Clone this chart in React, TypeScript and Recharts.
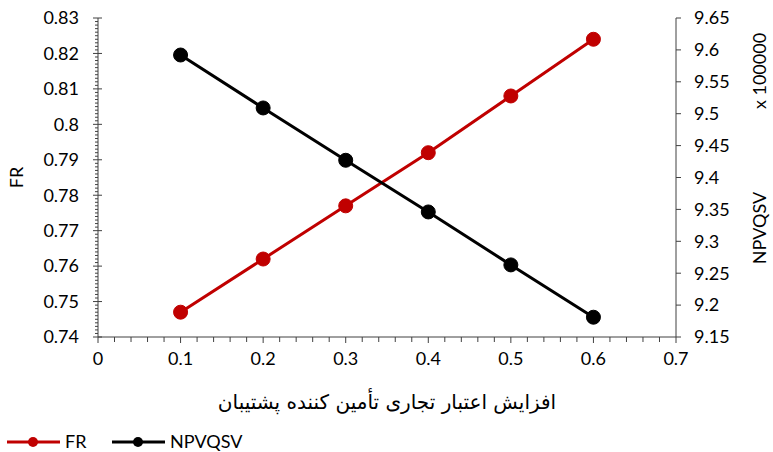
import React from 'react';
import { LineChart, Line, XAxis, YAxis, Legend, Label } from 'recharts';

const xValues = [0.1, 0.2, 0.3, 0.4, 0.5, 0.6];
const frValues = [0.747, 0.762, 0.777, 0.792, 0.808, 0.824];
const npvValues = [959200, 950900, 942700, 934600, 926300, 918100];

const xTickLabels = ['0', '0.1', '0.2', '0.3', '0.4', '0.5', '0.6', '0.7'];
const frTickLabels = ['0.74', '0.75', '0.76', '0.77', '0.78', '0.79', '0.8', '0.81', '0.82', '0.83'];
const npvTickLabels = ['9.15', '9.2', '9.25', '9.3', '9.35', '9.4', '9.45', '9.5', '9.55', '9.6', '9.65'];

const xTitle = 'افزایش اعتبار تجاری تأمین کننده پشتیبان';
const leftTitle = 'FR';
const rightTitle = 'NPVQSV';
const rightUnit = 'x 100000';

const data = xValues.map((x, i) => ({ x, FR: frValues[i], NPVQSV: npvValues[i] }));

// minor tick positions (axis furniture)
const xTicks = Array.from({ length: 36 }, (_, i) => Math.round(i * 2) / 100);
const frTicks = Array.from({ length: 91 }, (_, i) => Math.round(740 + i) / 1000);
const npvTicks = npvTickLabels.map((t) => Math.round(parseFloat(t) * 100000));

const AXIS = '#404040';
const FONT = 'Lato, "Open Sans", sans-serif';
const RED = '#C00000';
const BLACK = '#000000';

const XTick = (props: any) => {
  const { x, y, payload } = props;
  const k = Math.round(payload.value * 100);
  const major = k % 10 === 0;
  return (
    <g>
      <line x1={x} x2={x} y1={y} y2={y + (major ? 6 : 5)} stroke={AXIS} strokeWidth={1} />
      {major && (
        <text x={x} y={y + 28} textAnchor="middle" fontSize={18} fontFamily={FONT} fill="#000">
          {xTickLabels[k / 10]}
        </text>
      )}
    </g>
  );
};

const LeftTick = (props: any) => {
  const { x, y, payload } = props;
  const k = Math.round(payload.value * 1000) - 740;
  const major = k % 10 === 0;
  return (
    <g>
      <line x1={x - (major ? 5 : 3)} x2={x + (major ? 4 : 0)} y1={y} y2={y} stroke={AXIS} strokeWidth={1} />
      {major && (
        <text x={x - 19} y={y} dy="0.35em" textAnchor="end" fontSize={18} fontFamily={FONT} fill="#000">
          {frTickLabels[k / 10]}
        </text>
      )}
    </g>
  );
};

const RightTick = (props: any) => {
  const { x, y, index } = props;
  return (
    <g>
      <line x1={x} x2={x + 5} y1={y} y2={y} stroke={AXIS} strokeWidth={1} />
      <text x={x + 18} y={y} dy="0.35em" textAnchor="start" fontSize={18} fontFamily={FONT} fill="#000">
        {npvTickLabels[index]}
      </text>
    </g>
  );
};

const LegendContent = () => (
  <svg width={260} height={30}>
    <line x1={7} x2={60} y1={20} y2={20} stroke={RED} strokeWidth={3} />
    <circle cx={33} cy={20} r={5} fill={RED} />
    <text x={65} y={20} dy="0.35em" fontSize={18} fontFamily={FONT} fill="#000">FR</text>
    <line x1={112} x2={165} y1={20} y2={20} stroke={BLACK} strokeWidth={3} />
    <circle cx={138} cy={20} r={5} fill={BLACK} />
    <text x={170} y={20} dy="0.35em" fontSize={18} fontFamily={FONT} fill="#000">NPVQSV</text>
  </svg>
);

export default function App() {
  return (
    <div style={{ position: 'absolute', left: 0, top: 0, width: 773, height: 452, background: '#fff' }}>
      <LineChart width={773} height={452} data={data} margin={{ top: 18, right: 0, bottom: 0, left: 0 }}>
        <XAxis
          dataKey="x"
          type="number"
          domain={[0, 0.7]}
          ticks={xTicks}
          interval={0}
          height={85}
          tickSize={0}
          tickMargin={0}
          tickLine={false}
          stroke={AXIS}
          tick={<XTick />}
        >
          <Label
            content={(p: any) => {
              const vb = p.viewBox;
              return (
                <text
                  x={vb.x + vb.width / 2 - 0}
                  y={vb.y + 72}
                  textAnchor="middle"
                  fontSize={20}
                  fontFamily='"DejaVu Sans", sans-serif'
                  fill="#000"
                  direction="rtl"
                >
                  {xTitle}
                </text>
              );
            }}
          />
        </XAxis>
        <YAxis
          yAxisId="left"
          orientation="left"
          width={98}
          domain={[0.74, 0.83]}
          ticks={frTicks}
          interval={0}
          tickSize={0}
          tickMargin={0}
          tickLine={false}
          stroke={AXIS}
          tick={<LeftTick />}
        >
          <Label
            content={(p: any) => {
              const vb = p.viewBox;
              const cx = vb.x + 17;
              const cy = vb.y + vb.height / 2;
              return (
                <text x={cx} y={cy} dy="0.35em" textAnchor="middle" fontSize={18} fontFamily={FONT} fill="#000" transform={`rotate(-90 ${cx} ${cy})`}>
                  {leftTitle}
                </text>
              );
            }}
          />
        </YAxis>
        <YAxis
          yAxisId="right"
          orientation="right"
          width={97}
          domain={[915000, 965000]}
          ticks={npvTicks}
          interval={0}
          tickSize={0}
          tickMargin={0}
          tickLine={false}
          stroke={AXIS}
          tick={<RightTick />}
        >
          <Label
            content={(p: any) => {
              const vb = p.viewBox;
              const cx = vb.x + 84;
              const y1 = 71;
              const y2 = 228;
              return (
                <g>
                  <text x={cx} y={y1} dy="0.35em" textAnchor="middle" fontSize={18} fontFamily={FONT} fill="#000" transform={`rotate(-90 ${cx} ${y1})`}>
                    {rightUnit}
                  </text>
                  <text x={cx} y={y2} dy="0.35em" textAnchor="middle" fontSize={18} fontFamily={FONT} fill="#000" transform={`rotate(-90 ${cx} ${y2})`}>
                    {rightTitle}
                  </text>
                </g>
              );
            }}
          />
        </YAxis>
        <Legend verticalAlign="bottom" align="left" wrapperStyle={{ left: 0, bottom: 0, height: 30 }} content={<LegendContent />} />
        <Line
          yAxisId="left"
          dataKey="FR"
          stroke={RED}
          strokeWidth={3}
          dot={{ r: 7, fill: RED, stroke: RED, strokeWidth: 1 }}
          activeDot={false}
          isAnimationActive={false}
        />
        <Line
          yAxisId="right"
          dataKey="NPVQSV"
          stroke={BLACK}
          strokeWidth={3}
          dot={{ r: 7, fill: BLACK, stroke: BLACK, strokeWidth: 1 }}
          activeDot={false}
          isAnimationActive={false}
        />
      </LineChart>
    </div>
  );
}
